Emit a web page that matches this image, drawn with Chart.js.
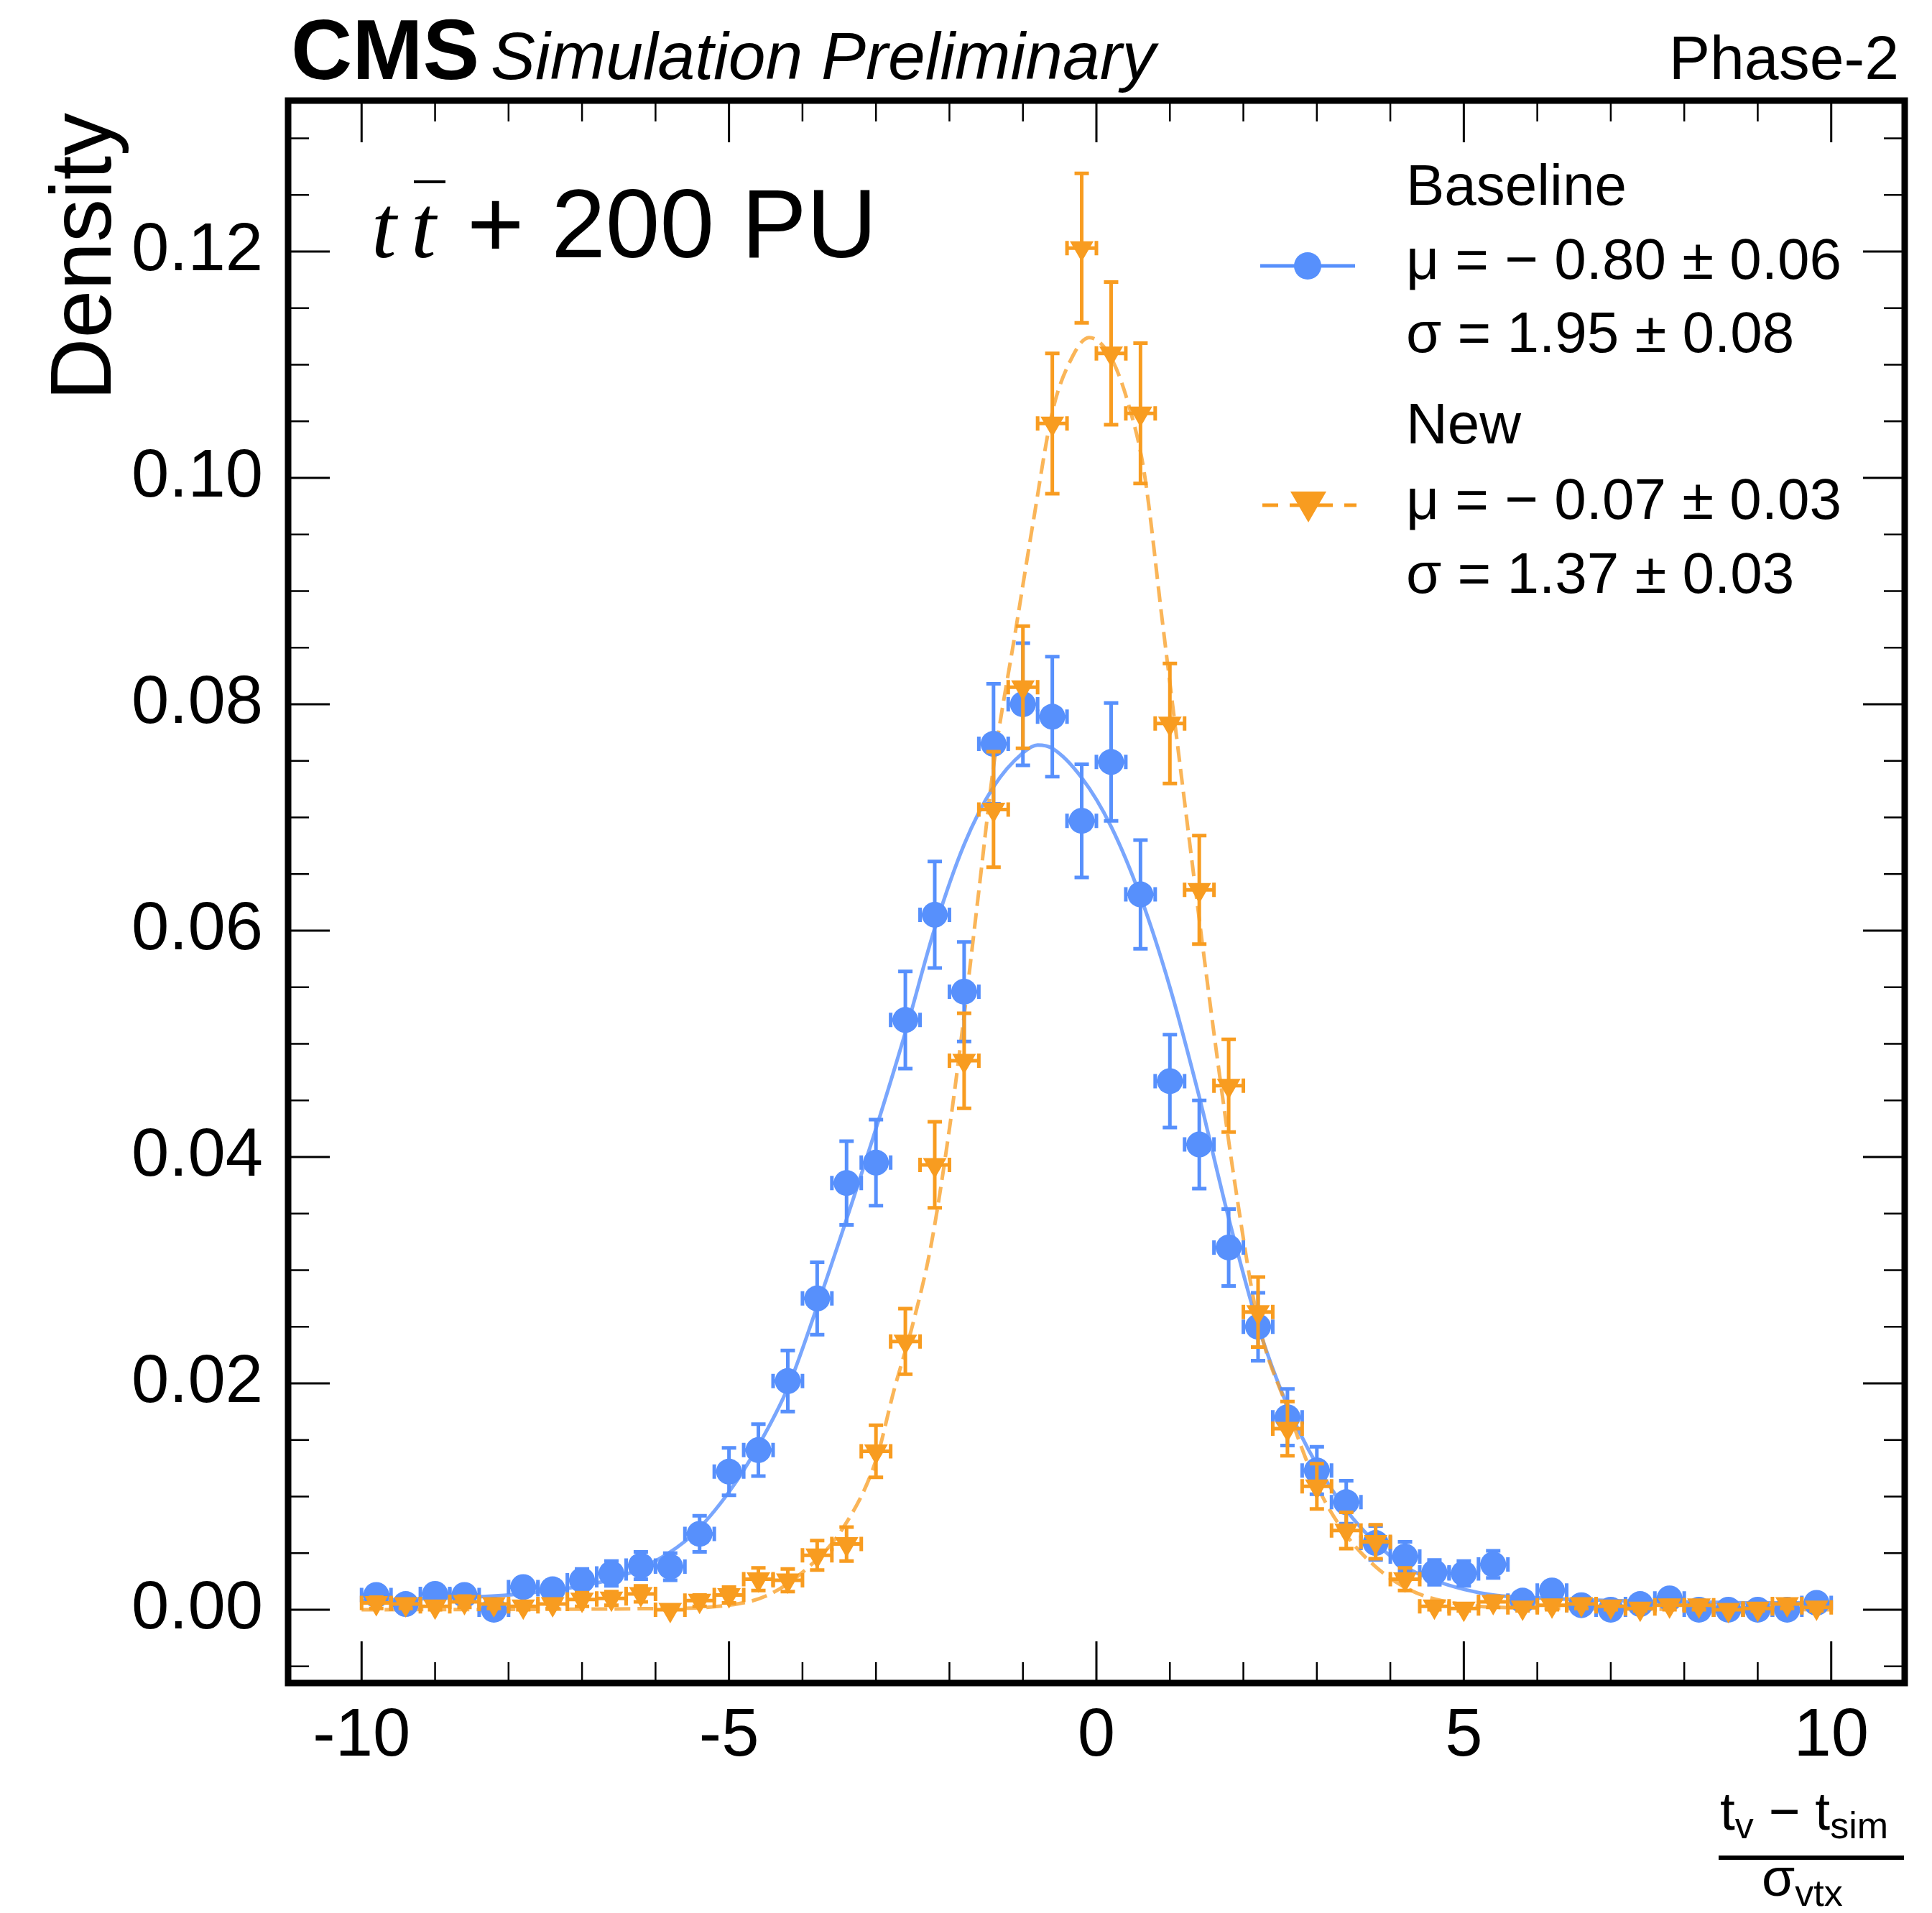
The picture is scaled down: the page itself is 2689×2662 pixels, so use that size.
<!DOCTYPE html>
<html>
<head>
<meta charset="utf-8">
<script src="https://cdn.jsdelivr.net/npm/chart.js@4.4.1/dist/chart.umd.min.js"></script>
<style>
  html, body { margin: 0; padding: 0; background: #fff; }
</style>
</head>
<body>
<canvas id="plot" width="2689" height="2662"></canvas>
<script>
// histogram bins: 0.4 wide, centres from -9.8 to 9.8
const binCenters = [-9.8, -9.4, -9.0, -8.6, -8.2, -7.8, -7.4, -7.0, -6.6, -6.2,
  -5.8, -5.4, -5.0, -4.6, -4.2, -3.8, -3.4, -3.0, -2.6, -2.2,
  -1.8, -1.4, -1.0, -0.6, -0.2, 0.2, 0.6, 1.0, 1.4, 1.8,
  2.2, 2.6, 3.0, 3.4, 3.8, 4.2, 4.6, 5.0, 5.4, 5.8,
  6.2, 6.6, 7.0, 7.4, 7.8, 8.2, 8.6, 9.0, 9.4, 9.8];
const binHalfWidth = 0.2;

// Baseline (blue circles)
const baselineDensity = [0.0013, 0.0005, 0.0014, 0.0013, 0.0000, 0.0020, 0.0018, 0.0026, 0.0032, 0.0039,
  0.0038, 0.0067, 0.0122, 0.0141, 0.0202, 0.0275, 0.0377, 0.0395, 0.0521, 0.0614,
  0.0546, 0.0765, 0.0800, 0.0789, 0.0697, 0.0749, 0.0632, 0.0467, 0.0411, 0.0320,
  0.0250, 0.0170, 0.0123, 0.0095, 0.0059, 0.0047, 0.0033, 0.0032, 0.0040, 0.0008,
  0.0017, 0.0004, 0.0000, 0.0005, 0.0010, 0.0000, 0.0000, 0.0000, 0.0000, 0.0006];
const baselineErr = [0.0007, 0.0004, 0.0007, 0.0007, 0.0000, 0.0008, 0.0008, 0.0010, 0.0011, 0.0012,
  0.0012, 0.0016, 0.0021, 0.0023, 0.0027, 0.0032, 0.0037, 0.0038, 0.0043, 0.0047,
  0.0044, 0.0053, 0.0054, 0.0053, 0.0050, 0.0052, 0.0048, 0.0041, 0.0039, 0.0034,
  0.0030, 0.0025, 0.0021, 0.0019, 0.0015, 0.0013, 0.0011, 0.0011, 0.0012, 0.0005,
  0.0008, 0.0004, 0.0000, 0.0004, 0.0006, 0.0000, 0.0000, 0.0000, 0.0000, 0.0005];

// New (orange triangles)
const newDensity = [0.0006, 0.0005, 0.0003, 0.0007, 0.0005, 0.0003, 0.0005, 0.0009, 0.0010, 0.0014,
  0.0000, 0.0008, 0.0013, 0.0027, 0.0026, 0.0048, 0.0058, 0.0140, 0.0237, 0.0393,
  0.0485, 0.0707, 0.0815, 0.1048, 0.1203, 0.1110, 0.1057, 0.0783, 0.0636, 0.0463,
  0.0263, 0.0160, 0.0109, 0.0070, 0.0060, 0.0027, 0.0003, 0.0001, 0.0007, 0.0002,
  0.0004, 0.0005, 0.0003, 0.0001, 0.0004, 0.0004, 0.0000, 0.0001, 0.0005, 0.0002];
const newErr = [0.0005, 0.0004, 0.0003, 0.0005, 0.0004, 0.0003, 0.0004, 0.0006, 0.0006, 0.0007,
  0.0000, 0.0005, 0.0007, 0.0010, 0.0010, 0.0013, 0.0015, 0.0023, 0.0029, 0.0038,
  0.0042, 0.0051, 0.0054, 0.0062, 0.0066, 0.0063, 0.0062, 0.0053, 0.0048, 0.0041,
  0.0031, 0.0024, 0.0020, 0.0016, 0.0015, 0.0010, 0.0003, 0.0002, 0.0005, 0.0003,
  0.0004, 0.0004, 0.0003, 0.0002, 0.0004, 0.0004, 0.0000, 0.0002, 0.0004, 0.0003];

// fitted curves
const baselineFitX = [-10, -9, -8, -7, -6.5, -6, -5.5, -5, -4.6, -4.2, -3.8, -3.4, -3.0, -2.6, -2.2,
  -1.8, -1.4, -1.0, -0.8, -0.6, -0.2, 0.2, 0.6, 1.0, 1.4, 1.8, 2.2, 2.6, 3.0, 3.4,
  3.8, 4.2, 4.6, 5.0, 5.4, 5.8, 6.5, 7, 8, 9, 10];
const baselineFitY = [0.0008, 0.0010, 0.0013, 0.0021, 0.0029, 0.0043, 0.0066, 0.0104, 0.0145, 0.0196,
  0.0268, 0.0345, 0.0425, 0.0510, 0.0602, 0.0676, 0.0727, 0.0757, 0.0764, 0.0761,
  0.0735, 0.0692, 0.0630, 0.0550, 0.0453, 0.0346, 0.0251, 0.0180, 0.0128, 0.0088,
  0.0059, 0.0038, 0.0026, 0.0018, 0.0013, 0.0011, 0.0009, 0.0008, 0.0007, 0.0006, 0.0006];
const newFitX = [-10, -6, -5, -4.5, -4, -3.45, -3.0, -2.75, -2.5, -2.25, -2.0, -1.8, -1.6, -1.4, -1.1,
  -0.85, -0.6, -0.35, -0.1, 0.2, 0.45, 0.65, 0.9, 1.15, 1.4, 1.65, 1.9, 2.2, 2.6, 3.0,
  3.4, 3.8, 4.25, 4.7, 5.5, 10];
const newFitY = [0.0000, 0.0001, 0.0004, 0.0012, 0.0033, 0.0072, 0.0132, 0.0195, 0.0252, 0.0322,
  0.0425, 0.0525, 0.0635, 0.0745, 0.0865, 0.0965, 0.1058, 0.1104, 0.1124, 0.1106,
  0.1062, 0.1005, 0.0872, 0.0740, 0.0610, 0.0485, 0.0370, 0.0255, 0.0178, 0.0110,
  0.0066, 0.0038, 0.0018, 0.0008, 0.0002, 0.0000];

const xTickValues = [-10, -5, 0, 5, 10];
const yTickValues = [0, 0.02, 0.04, 0.06, 0.08, 0.10, 0.12];

const legendLines = [
  ['Baseline', 'μ = − 0.80 ± 0.06', 'σ = 1.95 ± 0.08'],
  ['New', 'μ = − 0.07 ± 0.03', 'σ = 1.37 ± 0.03']
];

const blue = '#5790fc';
const orange = '#f89c20';
const FONT = '"Liberation Sans", Arial, sans-serif';

const pts = (xs, ys) => xs.map((x, i) => ({ x: x, y: ys[i] }));

// error bars drawn just before each point dataset
const errorBars = {
  id: 'errorBars',
  beforeDatasetDraw(chart, args) {
    const ds = chart.data.datasets[args.index];
    if (!ds.errY) return;
    const { ctx, scales: { x, y } } = chart;
    const cap = 10;
    ctx.save();
    ctx.strokeStyle = ds.backgroundColor;
    ctx.lineWidth = 5;
    ds.data.forEach((p, i) => {
      const px = x.getPixelForValue(p.x);
      const py = y.getPixelForValue(p.y);
      const x0 = x.getPixelForValue(p.x - binHalfWidth);
      const x1 = x.getPixelForValue(p.x + binHalfWidth);
      ctx.beginPath();
      ctx.moveTo(x0, py); ctx.lineTo(x1, py);
      ctx.moveTo(x0, py - cap); ctx.lineTo(x0, py + cap);
      ctx.moveTo(x1, py - cap); ctx.lineTo(x1, py + cap);
      const e = ds.errY[i];
      if (e > 0) {
        const y0 = y.getPixelForValue(p.y - e);
        const y1 = y.getPixelForValue(p.y + e);
        ctx.moveTo(px, y0); ctx.lineTo(px, y1);
        ctx.moveTo(px - cap, y0); ctx.lineTo(px + cap, y0);
        ctx.moveTo(px - cap, y1); ctx.lineTo(px + cap, y1);
      }
      ctx.stroke();
    });
    ctx.restore();
  }
};

// thick frame with inward ticks on all four sides
const frameTicks = {
  id: 'frameTicks',
  afterDatasetsDraw(chart) {
    const { ctx, chartArea: a, scales: { x, y } } = chart;
    ctx.save();
    ctx.strokeStyle = '#000';
    const drawX = (v, len) => {
      const px = x.getPixelForValue(v);
      ctx.moveTo(px, a.bottom); ctx.lineTo(px, a.bottom - len);
      ctx.moveTo(px, a.top); ctx.lineTo(px, a.top + len);
    };
    const drawY = (v, len) => {
      const py = y.getPixelForValue(v);
      ctx.moveTo(a.left, py); ctx.lineTo(a.left + len, py);
      ctx.moveTo(a.right, py); ctx.lineTo(a.right - len, py);
    };
    ctx.lineWidth = 2.5;
    ctx.beginPath();
    for (let v = -10; v <= 10; v++) if (v % 5 !== 0) drawX(v, 29);
    for (let k = -1; k <= 26; k++) if (k % 4 !== 0) drawY(k * 0.005, 29);
    ctx.stroke();
    ctx.lineWidth = 3;
    ctx.beginPath();
    xTickValues.forEach(v => drawX(v, 58));
    yTickValues.forEach(v => drawY(v, 58));
    ctx.stroke();
    ctx.lineWidth = 9;
    ctx.strokeRect(a.left, a.top, a.right - a.left, a.bottom - a.top);
    ctx.restore();
  }
};

// labels, annotation and legend
const annotations = {
  id: 'annotations',
  afterDraw(chart) {
    const { ctx } = chart;
    ctx.save();
    ctx.fillStyle = '#000';
    ctx.textBaseline = 'alphabetic';

    ctx.font = 'bold 118px ' + FONT;
    ctx.fillText('CMS', 405, 110);
    ctx.font = 'italic 93px ' + FONT;
    ctx.fillText('Simulation Preliminary', 683, 110);
    ctx.font = '86px ' + FONT;
    ctx.textAlign = 'right';
    ctx.fillText('Phase-2', 2643, 110);
    ctx.textAlign = 'left';

    // y label
    ctx.save();
    ctx.translate(154, 157);
    ctx.rotate(-Math.PI / 2);
    ctx.textAlign = 'right';
    ctx.font = '120px ' + FONT;
    ctx.fillText('Density', 0, 0);
    ctx.restore();

    // x label as a fraction
    ctx.font = '75px ' + FONT;
    let cx = 2394;
    const nb = 2546;
    const part = (txt, size, dy) => {
      ctx.font = size + 'px ' + FONT;
      ctx.fillText(txt, cx, nb + dy);
      cx += ctx.measureText(txt).width;
    };
    part('t', 75, 0); part('v', 52, 12); part(' − ', 75, 0); part('t', 75, 0); part('sim', 52, 12);
    const numRight = cx;
    ctx.fillRect(2392, 2582, Math.max(numRight, 2650) - 2392, 6);
    cx = 2452;
    const db = 2638;
    ctx.font = '75px ' + FONT;
    ctx.fillText('σ', cx, db);
    cx += ctx.measureText('σ').width;
    ctx.font = '52px ' + FONT;
    ctx.fillText('vtx', cx, db + 14);

    // process label
    ctx.font = 'italic 125px "Liberation Serif", "Times New Roman", serif';
    ctx.fillText('t', 517, 358);
    ctx.fillText('t', 572, 358);
    ctx.fillRect(576, 251, 44, 4);
    ctx.font = '136px ' + FONT;
    ctx.fillText('+ 200 PU', 650, 358);

    // legend
    ctx.font = '80px ' + FONT;
    const rows = [[285, 388, 490], [617, 722, 825]];
    legendLines.forEach((lines, g) => {
      lines.forEach((t, j) => ctx.fillText(t, 1957, rows[g][j]));
    });
    // baseline handle
    ctx.strokeStyle = blue;
    ctx.lineWidth = 5;
    ctx.beginPath();
    ctx.moveTo(1754, 370); ctx.lineTo(1886, 370);
    ctx.stroke();
    ctx.fillStyle = blue;
    ctx.beginPath();
    ctx.arc(1820, 370, 19, 0, 2 * Math.PI);
    ctx.fill();
    // new handle
    ctx.strokeStyle = orange;
    ctx.setLineDash([22, 16]);
    ctx.beginPath();
    ctx.moveTo(1757, 703); ctx.lineTo(1888, 703);
    ctx.stroke();
    ctx.setLineDash([]);
    ctx.fillStyle = orange;
    ctx.beginPath();
    ctx.moveTo(1796, 684); ctx.lineTo(1846, 684); ctx.lineTo(1821, 727);
    ctx.closePath();
    ctx.fill();
    ctx.restore();
  }
};

Chart.defaults.font.family = FONT;
Chart.defaults.color = '#000';

new Chart(document.getElementById('plot'), {
  type: 'scatter',
  data: {
    datasets: [
      {
        label: 'New',
        data: pts(binCenters, newDensity),
        errY: newErr,
        backgroundColor: orange,
        borderColor: orange,
        pointStyle: 'triangle',
        rotation: 180,
        pointRadius: 19,
        pointBorderWidth: 0,
        showLine: false,
        order: 0
      },
      {
        label: 'Baseline',
        data: pts(binCenters, baselineDensity),
        errY: baselineErr,
        backgroundColor: blue,
        borderColor: blue,
        pointStyle: 'circle',
        pointRadius: 18,
        pointBorderWidth: 0,
        showLine: false,
        order: 1
      },
      {
        label: 'New fit',
        data: pts(newFitX, newFitY),
        showLine: true,
        borderColor: 'rgba(248,156,32,0.75)',
        borderWidth: 5,
        borderDash: [22, 10],
        pointRadius: 0,
        cubicInterpolationMode: 'monotone',
        order: 2
      },
      {
        label: 'Baseline fit',
        data: pts(baselineFitX, baselineFitY),
        showLine: true,
        borderColor: 'rgba(87,144,252,0.8)',
        borderWidth: 5,
        pointRadius: 0,
        cubicInterpolationMode: 'monotone',
        order: 3
      }
    ]
  },
  options: {
    responsive: false,
    animation: false,
    devicePixelRatio: 1,
    events: [],
    layout: { padding: { left: 0, right: 38, top: 140, bottom: 0 } },
    plugins: { legend: { display: false }, tooltip: { enabled: false } },
    scales: {
      x: {
        type: 'linear',
        min: -11,
        max: 11,
        grid: { display: false },
        border: { display: false },
        afterBuildTicks: s => { s.ticks = xTickValues.map(v => ({ value: v })); },
        afterFit: s => { s.height = 320; },
        ticks: {
          font: { size: 94 },
          padding: 11,
          maxRotation: 0,
          autoSkip: false,
          callback: v => String(v)
        }
      },
      y: {
        type: 'linear',
        min: -0.00648,
        max: 0.13333,
        grid: { display: false },
        border: { display: false },
        afterBuildTicks: s => { s.ticks = yTickValues.map(v => ({ value: v })); },
        afterFit: s => { s.width = 401; },
        ticks: {
          font: { size: 94 },
          padding: 27,
          autoSkip: false,
          callback: v => v.toFixed(2)
        }
      }
    }
  },
  plugins: [errorBars, frameTicks, annotations]
});
</script>
</body>
</html>
